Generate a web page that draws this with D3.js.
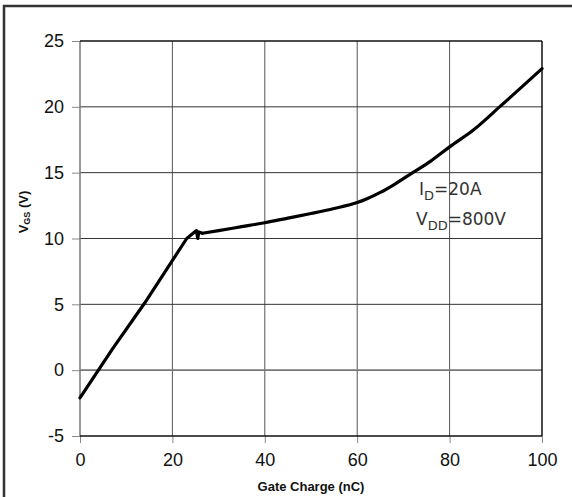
<!DOCTYPE html>
<html><head><meta charset="utf-8">
<script src="https://cdn.jsdelivr.net/npm/d3@7"></script>
<style>body{margin:0;background:#fff}svg{display:block}</style>
</head><body>
<script>
const charge = [0, 7, 14, 23.1, 25.2, 25.5, 25.7, 26.5, 30, 35, 40, 45, 50, 55, 60, 62, 65, 68, 72, 76, 80, 85, 91, 100];
const vgs    = [-2.1, 1.6, 5.1, 10, 10.6, 10.0, 10.5, 10.4, 10.6, 10.9, 11.2, 11.55, 11.9, 12.28, 12.73, 13.0, 13.5, 14.1, 15.0, 15.9, 16.96, 18.2, 20.05, 22.9];
const xTicks = [0, 20, 40, 60, 80, 100];
const yTicks = [-5, 0, 5, 10, 15, 20, 25];
const rampEnd = 7; // index where the plateau starts (points before drawn straight)

const W = 572, H = 497;
const svg = d3.select("body").append("svg").attr("width", W).attr("height", H);

// outer frame
svg.append("rect").attr("x", 4).attr("y", 6).attr("width", 580).attr("height", 520)
  .attr("fill", "none").attr("stroke", "#333").attr("stroke-width", 2.5);

const x = d3.scaleLinear().domain([0, 100]).range([80, 542]);
const y = d3.scaleLinear().domain([-5, 25]).range([436, 41]);

// grid
svg.append("g").selectAll("line").data(xTicks.slice(1, -1)).join("line")
  .attr("x1", d => x(d)).attr("x2", d => x(d)).attr("y1", y(25)).attr("y2", y(-5))
  .attr("stroke", "#555").attr("stroke-width", 1);
svg.append("g").selectAll("line").data(yTicks.slice(1, -1)).join("line")
  .attr("x1", x(0)).attr("x2", x(100)).attr("y1", d => y(d)).attr("y2", d => y(d))
  .attr("stroke", d => d === 0 ? "#777" : "#333").attr("stroke-width", d => d === 0 ? 1.6 : 1);

const fmt = d => String(d);
const tickFont = "Liberation Sans, Arial, sans-serif";

// axes
const xAxis = d3.axisBottom(x).tickValues(xTicks).tickFormat(fmt).tickSize(7).tickPadding(10);
const gx = svg.append("g").attr("transform", `translate(0,${y(-5)})`).call(xAxis);
gx.select(".domain").remove();
gx.selectAll(".tick line").attr("stroke", "#888");
gx.selectAll("text").attr("font-family", tickFont).attr("font-size", 18).attr("fill", "#111");

const yAxis = d3.axisLeft(y).tickValues(yTicks).tickFormat(fmt).tickSize(8).tickPadding(8);
const gy = svg.append("g").attr("transform", `translate(${x(0)},0)`).call(yAxis);
gy.select(".domain").remove();
gy.selectAll(".tick line").attr("stroke", "#888");
gy.selectAll("text").attr("font-family", tickFont).attr("font-size", 18).attr("fill", "#111");

// plot frame
svg.append("line").attr("x1", x(0)).attr("x2", x(0)).attr("y1", y(25)).attr("y2", y(-5)).attr("stroke", "#777").attr("stroke-width", 1.5);
svg.append("line").attr("x1", x(100)).attr("x2", x(100)).attr("y1", y(25)).attr("y2", y(-5)).attr("stroke", "#111").attr("stroke-width", 1.5);
svg.append("line").attr("x1", x(0)).attr("x2", x(100)).attr("y1", y(25)).attr("y2", y(25)).attr("stroke", "#111").attr("stroke-width", 1.5);
svg.append("line").attr("x1", x(0)).attr("x2", x(100)).attr("y1", y(-5)).attr("y2", y(-5)).attr("stroke", "#111").attr("stroke-width", 1.5);

// curve: straight ramp + smooth plateau/rise
const pts = charge.map((c, i) => [c, vgs[i]]);
const lineLin = d3.line().x(d => x(d[0])).y(d => y(d[1])).curve(d3.curveLinear);
const lineSmooth = d3.line().x(d => x(d[0])).y(d => y(d[1])).curve(d3.curveMonotoneX);
svg.append("path").datum(pts.slice(0, rampEnd + 1)).attr("d", lineLin)
  .attr("fill", "none").attr("stroke", "#000").attr("stroke-width", 3.2).attr("stroke-linejoin", "round").attr("stroke-linecap", "round");
svg.append("path").datum(pts.slice(rampEnd)).attr("d", lineSmooth)
  .attr("fill", "none").attr("stroke", "#000").attr("stroke-width", 3.2).attr("stroke-linejoin", "round").attr("stroke-linecap", "round");

// annotation
const ann = svg.append("g").attr("font-family", "DejaVu Sans, sans-serif").attr("fill", "#333");
const t1 = ann.append("text").attr("x", 419).attr("y", 195).attr("font-size", 17);
t1.append("tspan").text("I");
t1.append("tspan").attr("font-size", 13).attr("dy", 5).text("D");
t1.append("tspan").attr("dy", -5).text("=20A");
const t2 = ann.append("text").attr("x", 416).attr("y", 225).attr("font-size", 17);
t2.append("tspan").text("V");
t2.append("tspan").attr("font-size", 13).attr("dy", 5).text("DD");
t2.append("tspan").attr("dy", -5).text("=800V");

// axis titles
svg.append("text").attr("x", 311).attr("y", 491).attr("text-anchor", "middle")
  .attr("font-family", tickFont).attr("font-weight", "bold").attr("font-size", 13)
  .attr("fill", "#111").text("Gate Charge (nC)");
const yl = svg.append("text").attr("transform", "translate(28,212) rotate(-90)").attr("text-anchor", "middle")
  .attr("font-family", tickFont).attr("font-weight", "bold").attr("font-size", 13).attr("fill", "#111");
yl.append("tspan").text("V");
yl.append("tspan").attr("font-size", 9).attr("dy", 2).text("GS");
yl.append("tspan").attr("dy", -2).text(" (V)");
</script>
</body></html>
